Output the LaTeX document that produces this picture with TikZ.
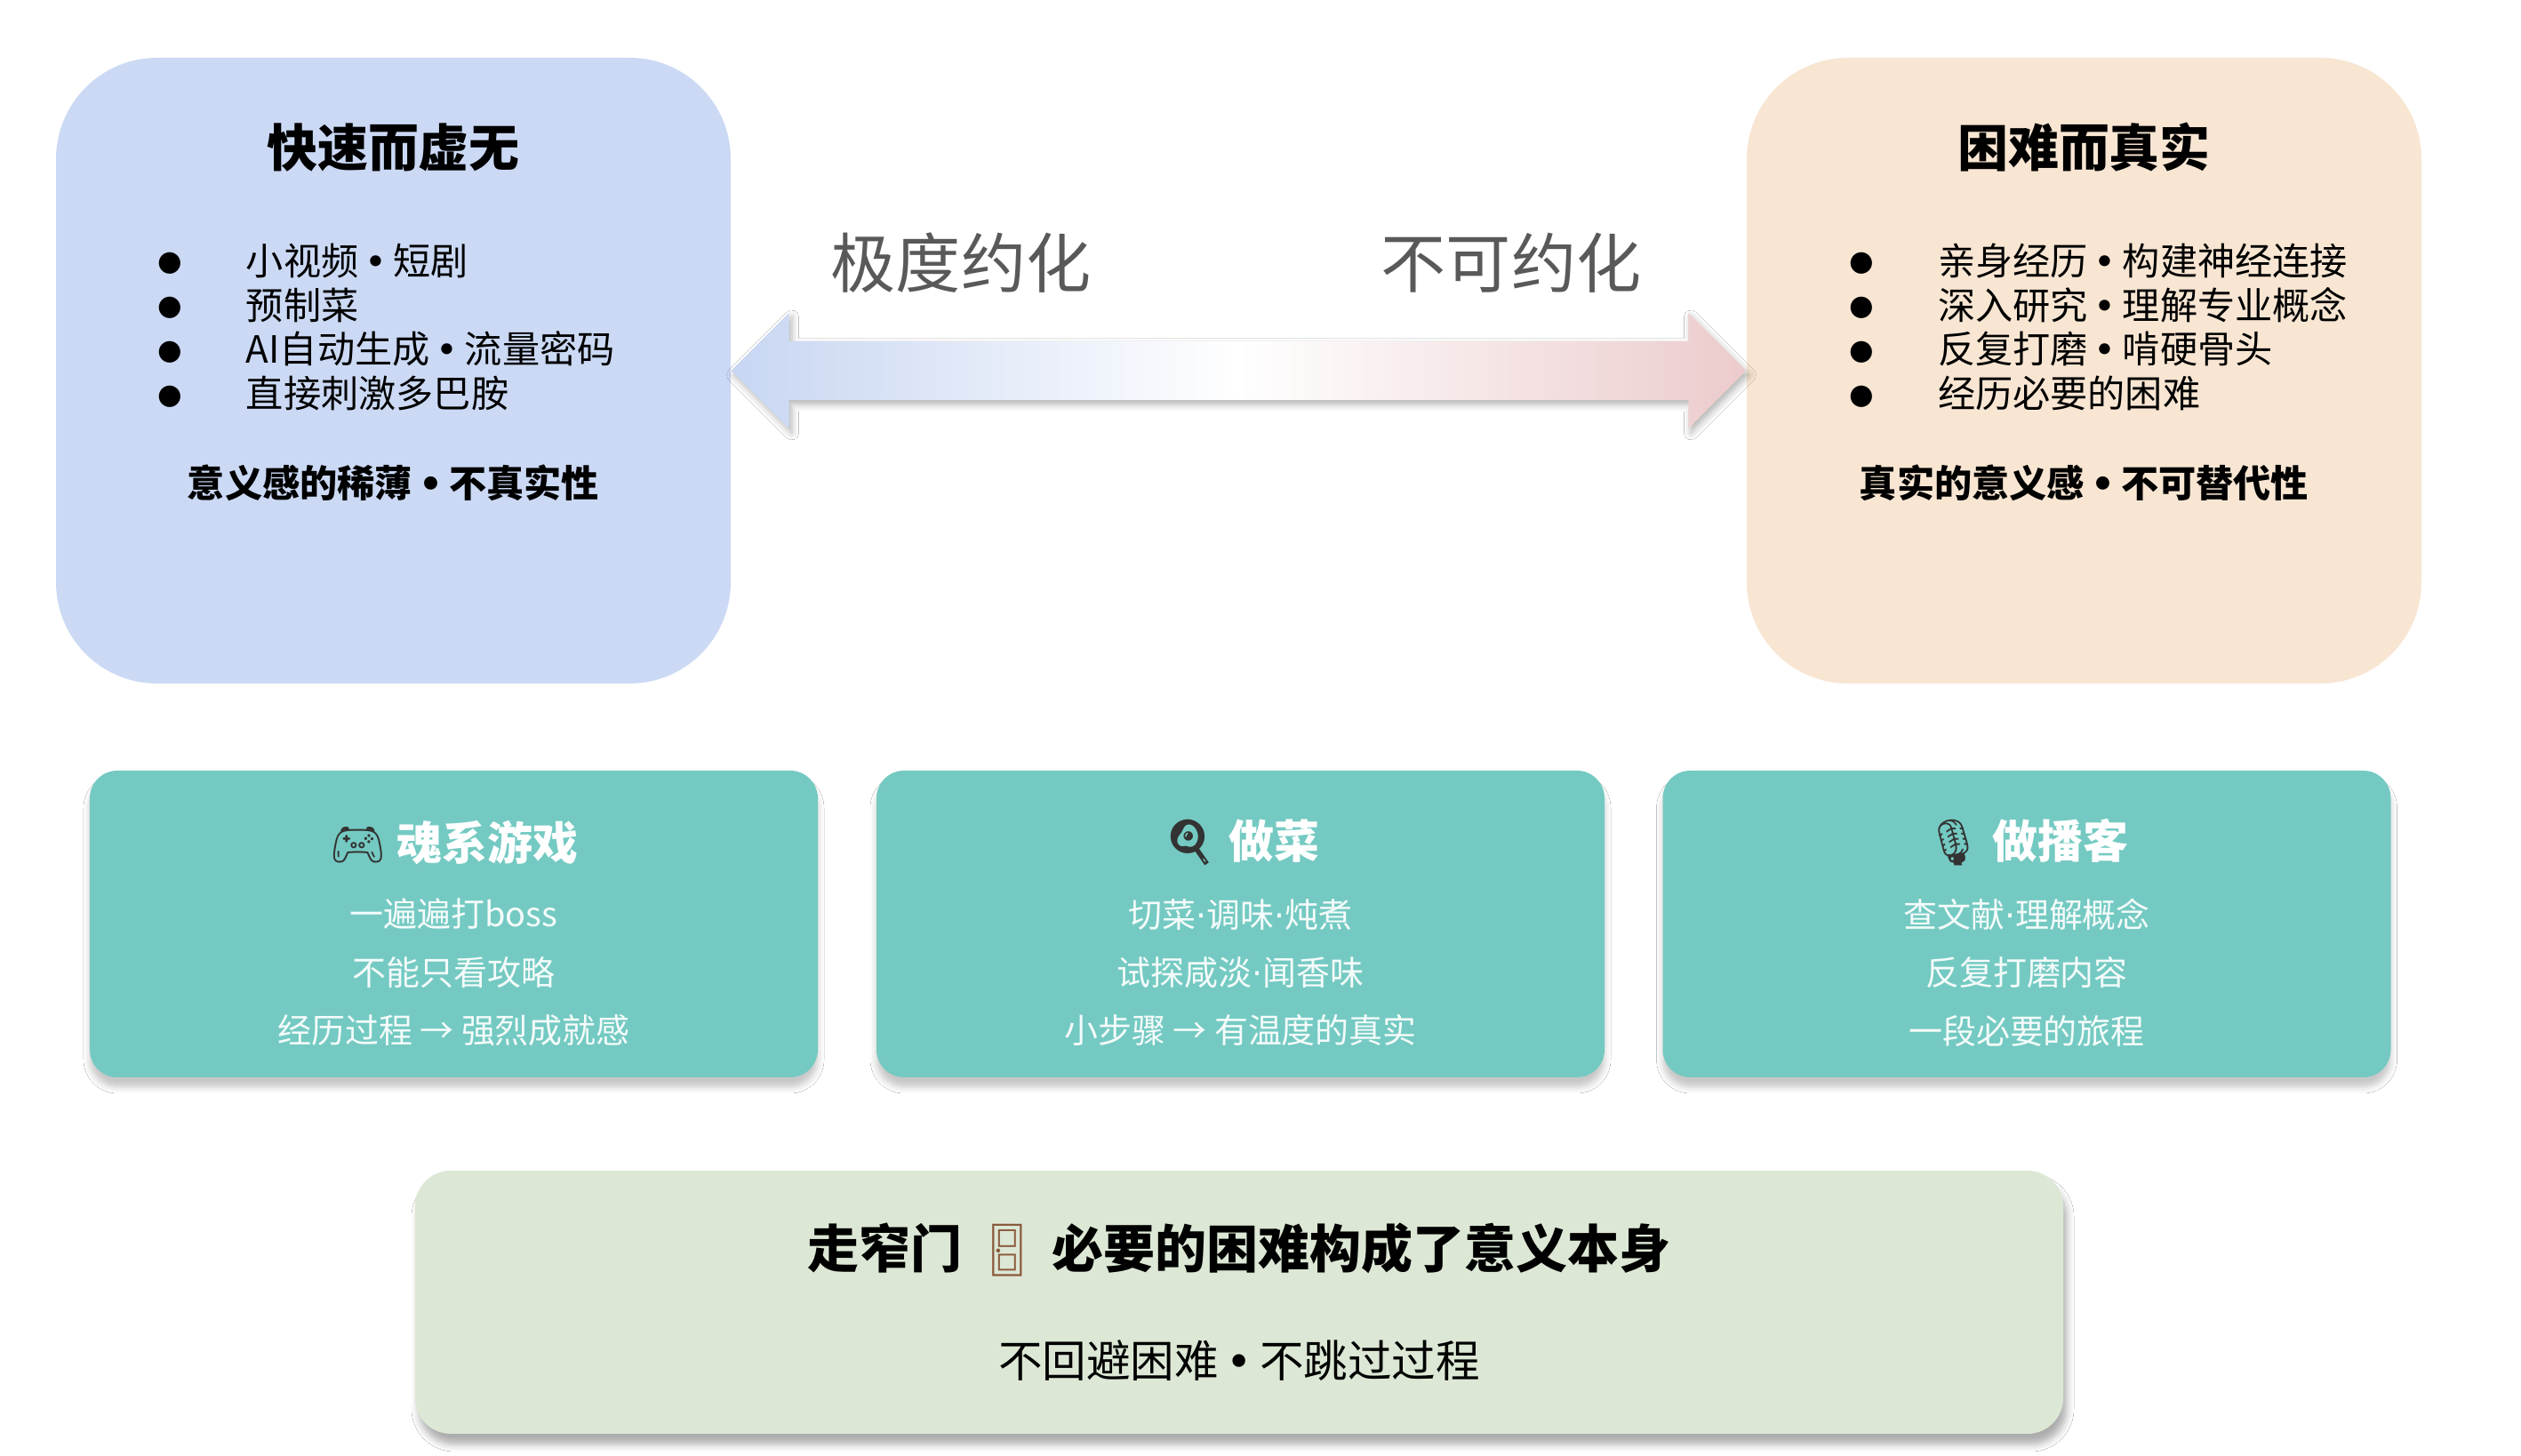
\documentclass[tikz,border=0pt]{standalone}
\usepackage{fontspec}
\setmainfont{Noto Sans CJK SC}
\newfontfamily\symfont{DejaVu Sans}
\newfontfamily\emojifont{Noto Emoji}
\usepackage{tikz}
\usetikzlibrary{calc,shadows.blur}

\definecolor{fastblue}{HTML}{CBD9F4}
\definecolor{realpeach}{HTML}{F8E6D3}
\definecolor{cardteal}{HTML}{74CAC2}
\definecolor{gatesage}{HTML}{DCE8D5}
\definecolor{arrowblue}{HTML}{C8D6F2}
\definecolor{arrowpink}{HTML}{ECCBCC}
\definecolor{labelgray}{HTML}{595959}
\definecolor{doorbrown}{HTML}{8B5A3C}
\definecolor{emojigray}{HTML}{333333}

\newcommand{\blt}{\makebox[1.0cm][l]{\smash{\raisebox{1.2pt}{\symfont\fontsize{9}{9}\selectfont ●}}}}
\newcommand{\sep}{\hspace{0.17em}{\symfont •}\hspace{0.17em}}
\newcommand{\middotsep}{{\symfont ·}}

\begin{document}
\begin{tikzpicture}[%
            bigbox/.style={
                rounded corners=1.14cm,
                minimum width=7.59cm,
                minimum height=7.04cm,
                inner sep=0pt,
            },
            bigtitle/.style={font=\bfseries\fontsize{16.2}{19}\selectfont},
            bulletlist/.style={
                align=left,
                anchor=west,
                inner sep=0pt,
                font=\fontsize{12}{14.2}\selectfont,
            },
            footline/.style={font=\bfseries\fontsize{12}{14}\selectfont},
            spectrum/.style={text=labelgray, font=\fontsize{20.8}{24}\selectfont},
            card/.style={
                fill=cardteal,
                rounded corners=0.31cm,
                minimum width=8.19cm,
                minimum height=3.45cm,
                blur shadow={shadow xshift=0cm, shadow yshift=-0.11cm, shadow blur radius=0.07cm, shadow opacity=22},
            },
            cardtitle/.style={text=white, font=\bfseries\fontsize{14.5}{17}\selectfont},
            cardlines/.style={
                text=white!92!cardteal,
                align=center,
                font=\fontsize{10.8}{18.6}\selectfont,
            },
            gate/.style={
                fill=gatesage,
                rounded corners=0.4cm,
                minimum width=18.54cm,
                minimum height=2.96cm,
                blur shadow={shadow xshift=0.04cm, shadow yshift=-0.12cm, shadow blur radius=0.08cm, shadow opacity=32},
            },
        ]
        \useasboundingbox[fill=white] (0,0) rectangle (28.36,16.38);

        \node[bigbox, fill=fastblue] (fast) at (4.425,12.21) {};
        \node[bigbox, fill=realpeach] (real) at (23.445,12.21) {};

        \node[bigtitle] (fasttitle) at ($(fast.center)+(0,2.51)$) {快速而虚无};
        \node[bulletlist] (fastlist) at ($(fast.west)+(1.14,0.49)$) {%
            \blt 小视频\sep 短剧\\
            \blt 预制菜\\
            \blt AI自动生成\sep 流量密码\\
            \blt 直接刺激多巴胺};
        \node[footline] (fastfoot) at ($(fast.center)+(0,-1.26)$) {意义感的稀薄\sep 不真实性};

        \node[bigtitle] (realtitle) at ($(real.center)+(0,2.51)$) {困难而真实};
        \node[bulletlist] (reallist) at ($(real.west)+(1.15,0.49)$) {%
            \blt 亲身经历\sep 构建神经连接\\
            \blt 深入研究\sep 理解专业概念\\
            \blt 反复打磨\sep 啃硬骨头\\
            \blt 经历必要的困难};
        \node[footline] (realfoot) at ($(real.center)+(0,-1.26)$) {真实的意义感\sep 不可替代性};

        \path[
            blur shadow={shadow xshift=0.03cm, shadow yshift=-0.05cm, shadow blur radius=0.08cm, shadow opacity=30},
            left color=arrowblue, right color=arrowpink, middle color=white,
        ]
            (fast.east) -- ++(0.65,0.65) -- ++(0,-0.32)
            -- ($(real.west)+(-0.65,0.33)$) -- ++(0,0.32) -- (real.west)
            -- ++(-0.65,-0.65) -- ++(0,0.32)
            -- ($(fast.east)+(0.65,-0.33)$) -- ++(0,-0.32) -- cycle;

        \node[spectrum] (reduced) at (10.81,13.42) {极度约化};
        \node[spectrum] (irreducible) at (17.00,13.42) {不可约化};

        \node[card] (souls) at (5.105,5.985) {};
        \node[card] (cooking) at (13.955,5.985) {};
        \node[card] (podcast) at (22.80,5.985) {};

        \node[cardtitle] (soulstitle) at ($(souls.center)+(0,0.915)$) {{\color{emojigray}\emojifont 🎮} 魂系游戏};
        \node[cardlines] (soulslines) at ($(souls.center)+(0,-0.545)$) {一遍遍打boss\\不能只看攻略\\经历过程 → 强烈成就感};

        \node[cardtitle] (cookingtitle) at ($(cooking.center)+(0,0.915)$) {{\color{emojigray}\emojifont 🍳} 做菜};
        \node[cardlines] (cookinglines) at ($(cooking.center)+(0,-0.545)$) {切菜\middotsep 调味\middotsep 炖煮\\试探咸淡\middotsep 闻香味\\小步骤 → 有温度的真实};

        \node[cardtitle] (podcasttitle) at ($(podcast.center)+(0,0.915)$) {{\color{emojigray}\emojifont 🎙} 做播客};
        \node[cardlines] (podcastlines) at ($(podcast.center)+(0,-0.545)$) {查文献\middotsep 理解概念\\反复打磨内容\\一段必要的旅程};

        \node[gate] (narrow) at (13.94,1.73) {};
        \node[font=\bfseries\fontsize{16.5}{20}\selectfont] (narrowtitle) at ($(narrow.center)+(0,0.59)$) {走窄门 {\color{doorbrown}\emojifont 🚪} 必要的困难构成了意义本身};
        \node[font=\fontsize{14.1}{16}\selectfont] (narrowsub) at ($(narrow.center)+(0,-0.66)$) {不回避困难\sep 不跳过过程};
    \end{tikzpicture}
\end{document}
